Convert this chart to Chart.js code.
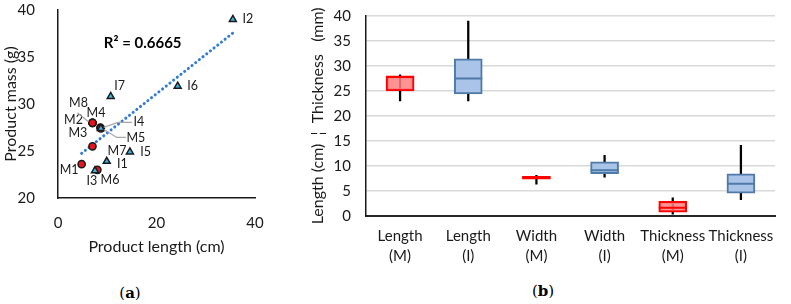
<!DOCTYPE html>
<html>
<head>
<meta charset="utf-8">
<script src="https://cdn.jsdelivr.net/npm/chart.js@4.4.1/dist/chart.umd.min.js"></script>
<style>
  html, body { margin: 0; padding: 0; background: #fff; }
  body { width: 791px; height: 304px; position: relative; overflow: hidden; font-family: Lato, "Open Sans", sans-serif; }
  .box { position: absolute; }
  .cap { position: absolute; font-family: "DejaVu Serif", "Liberation Serif", serif; font-size: 15px; color: #000; transform: translate(-50%, -50%); white-space: nowrap; }
</style>
</head>
<body>
<div class="box" style="left:0;top:0;width:280px;height:262px;"><canvas id="ca" width="280" height="262"></canvas></div>
<div class="box" style="left:280px;top:0;width:511px;height:270px;"><canvas id="cb" width="511" height="270"></canvas></div>
<div class="cap" style="left:130px;top:293px;">(<b>a</b>)</div>
<div class="cap" style="left:543px;top:291px;">(<b>b</b>)</div>
<script>
// ---------- Panel (a) data ----------
const mLabels = ['M1','M2','M3','M4','M5','M6','M7','M8'];
const mLength = [4.8, 7.0, 8.6, 7.0, 8.7, 8.0, 7.0, 7.0];
const mMass   = [23.6, 28.0, 27.5, 28.0, 27.4, 23.0, 25.5, 28.0];
const iLabels = ['I1','I2','I3','I4','I5','I6','I7'];
const iLength = [9.9, 35.5, 7.5, 8.7, 14.6, 24.3, 10.7];
const iMass   = [23.9, 39.0, 22.9, 27.4, 24.9, 31.9, 30.8];
const trendLength = [4.8, 35.5];
const trendMass   = [24.75, 37.55];
const r2Text = 'R² = 0.6665';

// ---------- Panel (b) data ----------
const boxCategories = [['Length','(M)'],['Length','(I)'],['Width','(M)'],['Width','(I)'],['Thickness','(M)'],['Thickness','(I)']];
const boxMin    = [23.0, 23.0, 6.3, 7.7, 0.3, 3.2];
const boxQ1     = [25.0, 24.4, 7.3, 8.4, 0.7, 4.5];
const boxMedian = [27.8, 27.5, 7.6, 9.1, 1.6, 6.4];
const boxQ3     = [28.0, 31.4, 7.9, 10.8, 2.9, 8.4];
const boxMax    = [28.2, 39.0, 8.1, 12.1, 3.6, 14.1];
const boxGroup  = ['M','I','M','I','M','I'];

// ---------- styles (kept separate from data) ----------
const FONT = 'Lato, "Open Sans", sans-serif';
// label offsets (px) relative to each marker, and optional leader lines
const mLabelOffsets = [[-12.5,6],[-19,-3],[-22.5,5],[3.5,-10],[35,10],[12.6,10],[24.5,5],[-14,-20]];
const iLabelOffsets = [[15.7,3],[15,0],[-3,10],[38,-6],[15.6,0],[15,0],[9,-11]];
const mLeaders = {4:[[25,9],[16,9],[3,1]], 7:[[-15,-10],[-4,-1]]};
const iLeaders = {3:[[31,-6],[17,-6],[3,-1]]};
const r2Pos = [17.2, 36.5]; // text anchor in data units

const redFill = 'rgba(255,128,128,0.85)', redLine = '#ff0000';
const blueFill = '#a9c4e8', blueLine = '#4f79a7';

// ---------- Panel (a) ----------
const pointLabelPlugin = {
  id: 'pointLabels',
  afterDatasetsDraw(chart) {
    const ctx = chart.ctx;
    const xs = chart.scales.x, ys = chart.scales.y;
    ctx.save();
    ctx.font = '12.5px ' + FONT;
    ctx.fillStyle = '#1a1a1a';
    ctx.textAlign = 'center';
    ctx.textBaseline = 'middle';
    const drawSet = (labels, xv, yv, offs, leaders) => {
      labels.forEach((lab, i) => {
        const px = xs.getPixelForValue(xv[i]), py = ys.getPixelForValue(yv[i]);
        if (leaders[i]) {
          ctx.strokeStyle = '#a6a6a6'; ctx.lineWidth = 1.2;
          ctx.beginPath();
          leaders[i].forEach((p, k) => { const X = px + p[0], Y = py + p[1]; k ? ctx.lineTo(X, Y) : ctx.moveTo(X, Y); });
          ctx.stroke();
        }
        ctx.fillText(lab, px + offs[i][0], py + offs[i][1]);
      });
    };
    drawSet(mLabels, mLength, mMass, mLabelOffsets, mLeaders);
    drawSet(iLabels, iLength, iMass, iLabelOffsets, iLeaders);
    ctx.font = 'bold 15px ' + FONT;
    ctx.fillStyle = '#000';
    ctx.fillText(r2Text, xs.getPixelForValue(r2Pos[0]), ys.getPixelForValue(r2Pos[1]));
    ctx.restore();
  }
};

new Chart(document.getElementById('ca'), {
  type: 'scatter',
  data: {
    datasets: [
      { label: 'trend', type: 'line', data: trendLength.map((x, i) => ({x, y: trendMass[i]})),
        borderColor: '#2f7bd6', borderWidth: 3, borderDash: [0.1, 4.6], borderCapStyle: 'round',
        pointRadius: 0, fill: false, order: 3 },
      { label: 'M', data: mLength.map((x, i) => ({x, y: mMass[i]})), pointStyle: 'circle',
        pointRadius: 3.6, backgroundColor: '#e8141b', borderColor: '#1a1a1a', borderWidth: 1.5, order: 2 },
      { label: 'I', data: iLength.map((x, i) => ({x, y: iMass[i]})), pointStyle: 'triangle',
        pointRadius: 4, backgroundColor: '#38b6e8', borderColor: '#1a1a1a', borderWidth: 1.5, order: 1 }
    ]
  },
  options: {
    responsive: false, animation: false,
    layout: { padding: { left: 0, right: 25, top: 0, bottom: 0 } },
    plugins: { legend: { display: false }, tooltip: { enabled: false } },
    scales: {
      x: { type: 'linear', min: 0, max: 40,
        ticks: { stepSize: 20, color: '#1a1a1a', font: { family: FONT, size: 15 }, padding: 8 },
        grid: { display: false }, border: { display: true, color: '#1a1a1a', width: 1.5 },
        title: { display: true, text: 'Product length (cm)', color: '#1a1a1a', font: { family: FONT, size: 16 }, padding: { top: 4, bottom: 6 } },
        afterFit(s) { s.height = 64; } },
      y: { type: 'linear', min: 20, max: 40,
        ticks: { stepSize: 5, color: '#1a1a1a', font: { family: FONT, size: 15 }, padding: 15 },
        grid: { display: false }, border: { display: true, color: '#1a1a1a', width: 1.5 },
        title: { display: true, text: 'Product mass (g)', color: '#1a1a1a', font: { family: FONT, size: 16 }, padding: { top: 1, bottom: 2 } },
        afterFit(s) { s.width = 58; s.paddingTop = 10; s.paddingBottom = 0; } }
    }
  },
  plugins: [pointLabelPlugin]
});

// ---------- Panel (b) ----------
const fills = boxGroup.map(g => g === 'M' ? redFill : blueFill);
const lines = boxGroup.map(g => g === 'M' ? redLine : blueLine);

new Chart(document.getElementById('cb'), {
  type: 'bar',
  data: {
    labels: boxCategories,
    datasets: [
      { label: 'median', type: 'line', data: boxMedian, showLine: false, pointStyle: 'line',
        pointRadius: 14, pointBorderWidth: 2, pointBorderColor: lines, pointBackgroundColor: lines, order: 1 },
      { label: 'box', data: boxQ1.map((q, i) => [q, boxQ3[i]]), grouped: false, barThickness: 28,
        backgroundColor: fills, borderColor: lines, borderWidth: 2, borderSkipped: false, order: 2 },
      { label: 'whisker', data: boxMin.map((m, i) => [m, boxMax[i]]), grouped: false, barThickness: 1.6,
        backgroundColor: '#000', borderWidth: 0, order: 3 }
    ]
  },
  options: {
    responsive: false, animation: false,
    layout: { padding: { left: 24, right: 6, top: 0, bottom: 0 } },
    plugins: { legend: { display: false }, tooltip: { enabled: false } },
    scales: {
      x: { ticks: { color: '#1a1a1a', font: { family: FONT, size: 15, lineHeight: 1.3 }, padding: 3, maxRotation: 0, autoSkip: false },
        grid: { display: false }, border: { display: true, color: '#262626', width: 2 },
        afterFit(s) { s.height = 54.3; } },
      y: { min: 0, max: 40,
        ticks: { stepSize: 5, color: '#1a1a1a', font: { family: FONT, size: 15 }, padding: 15 },
        grid: { color: '#d9d9d9', lineWidth: 1.5, drawTicks: false }, border: { display: true, color: '#1a1a1a', width: 1.5 },
        title: { display: true, text: 'Length (cm)  ¦  Thickness   (mm)', color: '#1a1a1a', font: { family: FONT, size: 16 }, padding: { top: 4, bottom: 2 } },
        afterFit(s) { s.width = 62; s.paddingTop = 10; s.paddingBottom = 0; } }
    }
  }
});
</script>
</body>
</html>
